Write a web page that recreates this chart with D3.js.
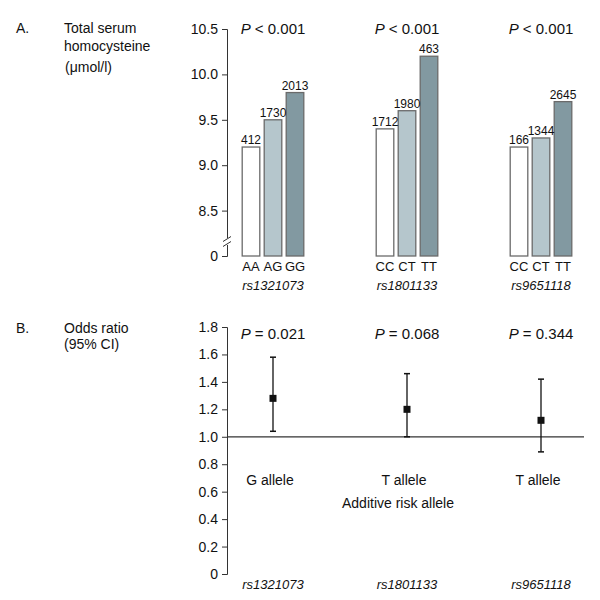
<!DOCTYPE html>
<html>
<head>
<meta charset="utf-8">
<script src="https://cdn.jsdelivr.net/npm/d3@7"></script>
<style>
  body { margin: 0; background: #fff; }
  text { font-family: "Liberation Sans", Arial, sans-serif; fill: #111; }
</style>
</head>
<body>
<div id="chart"></div>
<script>
const snps = ["rs1321073", "rs1801133", "rs9651118"];
const genotypes = [["AA", "AG", "GG"], ["CC", "CT", "TT"], ["CC", "CT", "TT"]];
const homocysteine = [[9.2, 9.5, 9.8], [9.4, 9.6, 10.2], [9.2, 9.3, 9.7]];
const counts = [[412, 1730, 2013], [1712, 1980, 463], [166, 1344, 2645]];
const pValuesA = ["< 0.001", "< 0.001", "< 0.001"];
const homTicks = [8.0, 8.5, 9.0, 9.5, 10.0, 10.5];

const riskAlleles = ["G allele", "T allele", "T allele"];
const oddsRatio = [1.28, 1.20, 1.12];
const ciLow = [1.04, 1.0, 0.89];
const ciHigh = [1.58, 1.46, 1.42];
const pValuesB = ["= 0.021", "= 0.068", "= 0.344"];
const orTicks = [0, 0.2, 0.4, 0.6, 0.8, 1.0, 1.2, 1.4, 1.6, 1.8];

const width = 600, height = 600;
const axisX = 227;
const barColors = ["#ffffff", "#b5c6cc", "#8299a1"];
const sideFont = "Open Sans, sans-serif";

const svg = d3.select("#chart").append("svg")
  .attr("width", width).attr("height", height);

const x = d3.scaleBand().domain(snps).range([206, 608]);
const xInner = d3.scaleBand().domain([0, 1, 2]).range([-33, 33])
  .paddingInner(0.2).paddingOuter(0.1);

// ---- Panel A ----
const yA = d3.scaleLinear().domain([8.0, 10.5]).range([256, 29]);

svg.append("text").attr("x", 16).attr("y", 33).attr("font-size", 14).text("A.");
svg.append("text").attr("x", 64).attr("y", 33).attr("font-size", 14).text("Total serum");
svg.append("text").attr("x", 64).attr("y", 51).attr("font-size", 14).text("homocysteine");
svg.append("text").attr("x", 65).attr("y", 72).attr("font-size", 14).text("(\u03bcmol/l)");

const axA = svg.append("g")
  .attr("transform", `translate(${axisX},0)`)
  .call(d3.axisLeft(yA).tickValues(homTicks).tickSize(5).tickPadding(4)
    .tickFormat(d => d === 8 ? "0" : d.toFixed(1)));
axA.selectAll("text").attr("font-size", 14).attr("font-family", "Liberation Sans, Arial, sans-serif").attr("fill", "#111");
axA.selectAll("line, path").attr("stroke", "#333");

// axis break mark
svg.append("rect").attr("x", axisX - 3).attr("y", 238).attr("width", 6).attr("height", 7).attr("fill", "#fff");
[239, 244].forEach(yy => {
  svg.append("line").attr("x1", axisX - 4).attr("x2", axisX + 4)
    .attr("y1", yy + 2.5).attr("y2", yy - 2.5)
    .attr("stroke", "#333").attr("stroke-width", 1);
});

snps.forEach((snp, gi) => {
  const g = svg.append("g").attr("transform", `translate(${x(snp) + x.bandwidth() / 2},0)`);
  const rows = homocysteine[gi].map((v, i) => ({ v, i, n: counts[gi][i], lab: genotypes[gi][i] }));

  g.selectAll("rect").data(rows).join("rect")
    .attr("x", d => xInner(d.i))
    .attr("y", d => yA(d.v))
    .attr("width", xInner.bandwidth())
    .attr("height", d => yA(8.0) - yA(d.v))
    .attr("fill", d => barColors[d.i])
    .attr("stroke", "#6a6a6a")
    .attr("stroke-width", 1.3);

  g.selectAll("text.n").data(rows).join("text")
    .attr("class", "n")
    .attr("x", d => xInner(d.i) + xInner.bandwidth() / 2)
    .attr("y", d => yA(d.v) - 3)
    .attr("text-anchor", "middle")
    .attr("font-size", 12)
    .attr("font-family", sideFont)
    .attr("fill", "#111")
    .text(d => d.n);

  g.selectAll("text.gt").data(rows).join("text")
    .attr("class", "gt")
    .attr("x", d => xInner(d.i) + xInner.bandwidth() / 2)
    .attr("y", 271)
    .attr("text-anchor", "middle")
    .attr("font-size", 13)
    .attr("font-family", sideFont)
    .attr("fill", "#111")
    .text(d => d.lab);

  g.append("text").attr("x", 0).attr("y", 290)
    .attr("text-anchor", "middle").attr("font-size", 13)
    .attr("font-style", "italic").attr("font-family", sideFont)
    .attr("fill", "#111")
    .text(snp);

  const p = g.append("text").attr("x", 0).attr("y", 34)
    .attr("text-anchor", "middle").attr("font-size", 15);
  p.append("tspan").attr("font-style", "italic").text("P");
  p.append("tspan").text(" " + pValuesA[gi]);
});

// ---- Panel B ----
const yB = d3.scaleLinear().domain([0, 1.8]).range([574, 327]);

svg.append("text").attr("x", 16).attr("y", 333).attr("font-size", 14).text("B.");
svg.append("text").attr("x", 64).attr("y", 333).attr("font-size", 14).text("Odds ratio");
svg.append("text").attr("x", 64).attr("y", 349).attr("font-size", 14).text("(95% CI)");

const axB = svg.append("g")
  .attr("transform", `translate(${axisX},0)`)
  .call(d3.axisLeft(yB).tickValues(orTicks).tickSize(5).tickPadding(4)
    .tickFormat(d => d === 0 ? "0" : d.toFixed(1)));
axB.selectAll("text").attr("font-size", 14).attr("font-family", "Liberation Sans, Arial, sans-serif").attr("fill", "#111");
axB.selectAll("line, path").attr("stroke", "#333");

svg.append("line")
  .attr("x1", axisX).attr("x2", 584)
  .attr("y1", yB(1)).attr("y2", yB(1))
  .attr("stroke", "#333").attr("stroke-width", 1.2);

snps.forEach((snp, i) => {
  const cx = x(snp) + x.bandwidth() / 2;
  svg.append("line").attr("x1", cx).attr("x2", cx)
    .attr("y1", yB(ciLow[i])).attr("y2", yB(ciHigh[i]))
    .attr("stroke", "#111").attr("stroke-width", 1.3);
  [ciLow[i], ciHigh[i]].forEach(v => {
    svg.append("line").attr("x1", cx - 3).attr("x2", cx + 3)
      .attr("y1", yB(v)).attr("y2", yB(v))
      .attr("stroke", "#111").attr("stroke-width", 1.5);
  });
  svg.append("rect").attr("x", cx - 3.5).attr("y", yB(oddsRatio[i]) - 3.5)
    .attr("width", 7).attr("height", 7).attr("fill", "#111");

  const p = svg.append("text").attr("x", cx).attr("y", 339)
    .attr("text-anchor", "middle").attr("font-size", 15);
  p.append("tspan").attr("font-style", "italic").text("P");
  p.append("tspan").text(" " + pValuesB[i]);

  svg.append("text").attr("x", cx - 3).attr("y", 485)
    .attr("text-anchor", "middle").attr("font-size", 14)
    .text(riskAlleles[i]);

  svg.append("text").attr("x", cx).attr("y", 589)
    .attr("text-anchor", "middle").attr("font-size", 13)
    .attr("font-style", "italic").attr("font-family", sideFont)
    .attr("fill", "#111")
    .text(snp);
});

svg.append("text").attr("x", x("rs1801133") + x.bandwidth() / 2 - 9).attr("y", 508)
  .attr("text-anchor", "middle").attr("font-size", 14)
  .text("Additive risk allele");
</script>
</body>
</html>
